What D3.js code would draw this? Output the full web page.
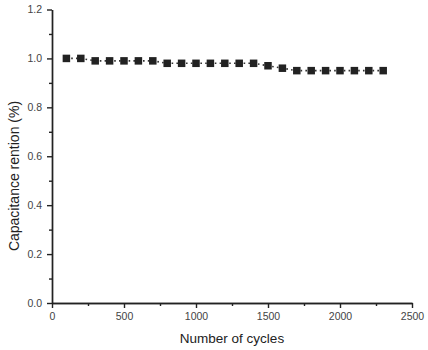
<!DOCTYPE html>
<html>
<head>
<meta charset="utf-8">
<script src="https://cdn.jsdelivr.net/npm/d3@7"></script>
<style>
  body { margin: 0; background: #fff; }
  svg { display: block; font-family: "Liberation Sans", Arial, sans-serif; }
  .axis path, .axis line { stroke: #222; stroke-width: 1.4; }
  .axis text { fill: #444; font-size: 10.5px; font-family: "Liberation Sans", Arial, sans-serif; }
</style>
</head>
<body>
<div id="chart"></div>
<script>
// data
var cycles = [100, 200, 300, 400, 500, 600, 700, 800, 900, 1000, 1100, 1200,
              1300, 1400, 1500, 1600, 1700, 1800, 1900, 2000, 2100, 2200, 2300];
var retention = [1.00, 1.00, 0.99, 0.99, 0.99, 0.99, 0.99, 0.98, 0.98, 0.98, 0.98, 0.98,
                 0.98, 0.98, 0.97, 0.96, 0.95, 0.95, 0.95, 0.95, 0.95, 0.95, 0.95];
var xTicks = [0, 500, 1000, 1500, 2000, 2500];
var xMinor = [250, 750, 1250, 1750, 2250];
var yTicks = [0.0, 0.2, 0.4, 0.6, 0.8, 1.0, 1.2];
var yMinor = [0.1, 0.3, 0.5, 0.7, 0.9, 1.1];
var xTitle = "Number of cycles";
var yTitle = "Capacitance rention (%)";

var W = 428, H = 350;
var margin = { top: 9.5, right: 16, bottom: 47, left: 52 };
var w = W - margin.left - margin.right,
    h = H - margin.top - margin.bottom;

var svg = d3.select("#chart").append("svg")
  .attr("width", W)
  .attr("height", H);

var g = svg.append("g")
  .attr("transform", "translate(" + margin.left + "," + margin.top + ")");

var x = d3.scaleLinear().domain([0, 2500]).range([0, w]);
var y = d3.scaleLinear().domain([0, 1.2]).range([h, 0]);

// minor ticks first so the major axis sits on top
g.append("g").attr("class", "axis")
  .attr("transform", "translate(0," + h + ")")
  .call(d3.axisBottom(x).tickValues(xMinor).tickSize(3).tickSizeOuter(0).tickFormat(""));
g.append("g").attr("class", "axis")
  .call(d3.axisLeft(y).tickValues(yMinor).tickSize(3).tickSizeOuter(0).tickFormat(""));

g.append("g").attr("class", "axis")
  .attr("transform", "translate(0," + h + ")")
  .call(d3.axisBottom(x).tickValues(xTicks).tickSize(5).tickSizeOuter(0).tickPadding(5)
    .tickFormat(d3.format("d")));
g.append("g").attr("class", "axis")
  .call(d3.axisLeft(y).tickValues(yTicks).tickSize(5).tickSizeOuter(0).tickPadding(5)
    .tickFormat(d3.format(".1f")));

var pts = cycles.map(function (c, i) { return [c, retention[i]]; });

// dotted connecting line
g.append("path")
  .datum(pts)
  .attr("fill", "none")
  .attr("stroke", "#333")
  .attr("stroke-width", 1.6)
  .attr("stroke-dasharray", "1.6,3.2")
  .attr("d", d3.line()
    .x(function (d) { return x(d[0]); })
    .y(function (d) { return y(d[1]); }));

var s = 7.5;
g.selectAll("rect.pt")
  .data(pts)
  .enter()
  .append("rect")
  .attr("class", "pt")
  .attr("x", function (d) { return x(d[0]) - s / 2; })
  .attr("y", function (d) { return y(d[1]) - s / 2; })
  .attr("width", s)
  .attr("height", s)
  .attr("fill", "#222");

// axis titles
svg.append("text")
  .attr("x", margin.left + x(1250))
  .attr("y", 343)
  .attr("text-anchor", "middle")
  .attr("fill", "#222")
  .style("font-size", "13.5px")
  .text(xTitle);

svg.append("text")
  .attr("transform", "translate(19," + 176 + ") rotate(-90)")
  .attr("text-anchor", "middle")
  .attr("fill", "#222")
  .style("font-size", "14px")
  .text(yTitle);
</script>
</body>
</html>
